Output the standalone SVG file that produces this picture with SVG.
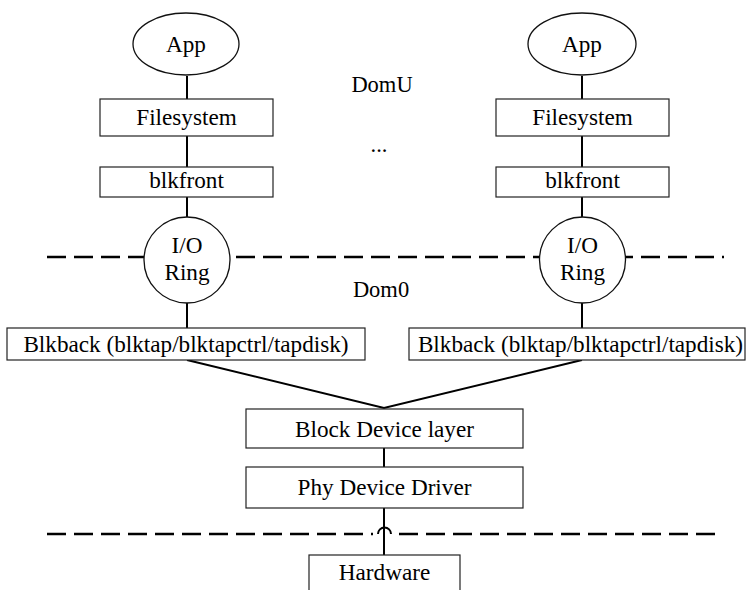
<svg xmlns="http://www.w3.org/2000/svg" width="747" height="590" viewBox="0 0 747 590">
  <style>
    text { font-family: "Liberation Serif", "Times New Roman", serif; font-size: 23.2px; fill: #000; text-anchor: middle; }
    text.dom { font-size: 22.5px; }
    .box { fill: #fff; stroke: #222; stroke-width: 1.2; }
    .oval { fill: #fff; stroke: #111; stroke-width: 1.3; }
    .link { fill: none; stroke: #000; stroke-width: 2; }
    .sep { fill: none; stroke: #000; stroke-width: 2.6; stroke-dasharray: 19 8; }
  </style>

  <!-- domain separators -->
  <g id="separators">
    <path class="sep" d="M47,257 H724"/>
    <path class="sep" d="M47,534 H373"/>
    <path class="sep" d="M398,534 H723" stroke-dashoffset="-1"/>
    <path d="M378,534 A6.5,6.5 0 0 1 391,534" fill="none" stroke="#000" stroke-width="2"/>
  </g>

  <!-- connectors -->
  <g id="connectors">
    <path class="link" d="M187,76 V99 M187,136 V167 M187,197 V217 M187,303 V328"/>
    <path class="link" d="M582,76 V99 M582,136 V167 M582,197 V217 M582,303 V328"/>
    <path class="link" d="M187,360 L384,408 L582,360"/>
    <path class="link" d="M384,448 V467"/>
    <path class="link" d="M384,508 V555"/>
  </g>

  <!-- labels -->
  <g id="domu-label"><text class="dom" x="382" y="92">DomU</text></g>
  <g id="dom0-label"><text class="dom" x="381" y="297">Dom0</text></g>
  <g id="ellipsis"><text class="dom" x="379" y="152">...</text></g>

  <!-- left guest stack -->
  <g id="app-left">
    <ellipse class="oval" cx="186" cy="44" rx="53" ry="31"/>
    <text x="186" y="52">App</text>
  </g>
  <g id="filesystem-left">
    <rect class="box" x="100" y="99" width="173" height="37"/>
    <text x="186.5" y="125">Filesystem</text>
  </g>
  <g id="blkfront-left">
    <rect class="box" x="100" y="167" width="173" height="30"/>
    <text x="186.5" y="188">blkfront</text>
  </g>
  <g id="ioring-left">
    <circle class="oval" cx="187" cy="260" r="43"/>
    <text x="187" y="253">I/O</text>
    <text x="187" y="280">Ring</text>
  </g>
  <g id="blkback-left">
    <rect class="box" x="7" y="328" width="358" height="32"/>
    <text x="186" y="352">Blkback (blktap/blktapctrl/tapdisk)</text>
  </g>

  <!-- right guest stack -->
  <g id="app-right">
    <ellipse class="oval" cx="582" cy="44" rx="54" ry="31"/>
    <text x="582" y="52">App</text>
  </g>
  <g id="filesystem-right">
    <rect class="box" x="496" y="99" width="173" height="37"/>
    <text x="582.5" y="125">Filesystem</text>
  </g>
  <g id="blkfront-right">
    <rect class="box" x="496" y="167" width="173" height="30"/>
    <text x="582.5" y="188">blkfront</text>
  </g>
  <g id="ioring-right">
    <circle class="oval" cx="582.5" cy="260" r="43"/>
    <text x="582.5" y="253">I/O</text>
    <text x="582.5" y="280">Ring</text>
  </g>
  <g id="blkback-right">
    <rect class="box" x="409" y="328" width="336" height="32"/>
    <text x="580.5" y="352">Blkback (blktap/blktapctrl/tapdisk)</text>
  </g>

  <!-- dom0 / hardware stack -->
  <g id="block-device-layer">
    <rect class="box" x="246" y="409" width="277" height="39"/>
    <text x="384.5" y="437">Block Device layer</text>
  </g>
  <g id="phy-device-driver">
    <rect class="box" x="246" y="467" width="277" height="41"/>
    <text x="384.5" y="495">Phy Device Driver</text>
  </g>
  <g id="hardware">
    <rect class="box" x="309" y="555" width="151" height="50"/>
    <text x="384.5" y="580">Hardware</text>
  </g>
</svg>
